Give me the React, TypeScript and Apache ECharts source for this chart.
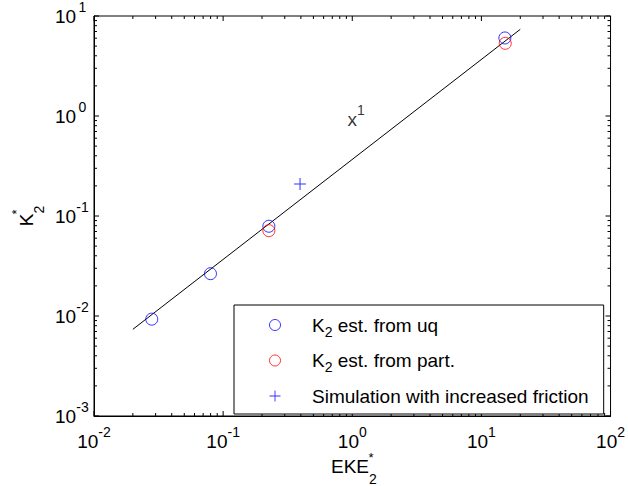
import React, { useEffect, useRef } from 'react';
import * as echarts from 'echarts';

// ---- data ----
const K2_UQ_EKE = [0.028, 0.0798, 0.226, 15.2];
const K2_UQ_K = [0.0093, 0.0265, 0.079, 6.03];
const K2_PART_EKE = [0.226, 15.3];
const K2_PART_K = [0.0713, 5.33];
const FRICTION_EKE = [0.394];
const FRICTION_K = [0.209];
const FIT_EKE = [0.02, 20];
const FIT_K = [0.00736, 7.36];
const FIT_LABEL_AT = [1.07, 0.933];
const X_RANGE = [0.01, 100];
const Y_RANGE = [0.001, 10];
const LEGEND_NAMES = ['uq', 'part', 'fric'];
const LEGEND_TEXT: Record<string, string> = {
  uq: '{b|K}{sub|2}{b| est. from uq}',
  part: '{b|K}{sub|2}{b| est. from part.}',
  fric: '{b|Simulation with increased friction}',
};

const FONT = 'Liberation Sans, Arial, Helvetica, sans-serif';
const BLUE = '#0000ff';
const RED = '#ff0000';
const PLUS = 'path://M5.5,0H6.5V5.5H12V6.5H6.5V12H5.5V6.5H0V5.5H5.5Z';

function decadeTicks(range: number[]) {
  const lo = Math.round(Math.log10(range[0]));
  const hi = Math.round(Math.log10(range[1]));
  const out: { v: number; major: boolean }[] = [];
  for (let k = lo; k <= hi; k++) {
    for (let m = 1; m <= 9; m++) {
      const v = m * Math.pow(10, k);
      if (v > range[1] * 1.0001) break;
      out.push({ v, major: m === 1 });
    }
  }
  return out;
}

const tickRich = {
  b: { fontSize: 19, height: 22, lineHeight: 22, verticalAlign: 'bottom', fontFamily: FONT, color: '#000' },
  s: { fontSize: 14, height: 4, lineHeight: 4, verticalAlign: 'top', fontFamily: FONT, color: '#000' },
};
const yTickRich = {
  b: { fontSize: 19, height: 22, lineHeight: 22, verticalAlign: 'bottom', fontFamily: FONT, color: '#000' },
  s: {
    fontSize: 14,
    height: 4,
    lineHeight: 4,
    width: 13,
    align: 'left',
    verticalAlign: 'top',
    fontFamily: FONT,
    color: '#000',
  },
};

const expLabel = (v: number) => `{b|10}{s|${Math.round(Math.log10(v))}}`;

export default function App() {
  const ref = useRef<HTMLDivElement>(null);
  useEffect(() => {
    if (!ref.current) return;
    const chart = echarts.init(ref.current, undefined, { renderer: 'svg' });

    const tickData: number[][] = [];
    decadeTicks(X_RANGE).forEach((t) => tickData.push([t.v, Y_RANGE[0], 0, t.major ? 5 : 3]));
    decadeTicks(Y_RANGE).forEach((t) => tickData.push([X_RANGE[0], t.v, 1, t.major ? 5 : 3]));

    const titleRich = {
      b: { fontSize: 19, height: 22, lineHeight: 22, verticalAlign: 'top', fontFamily: FONT, color: '#000' },
      sub: { fontSize: 14, height: 12, lineHeight: 30, verticalAlign: 'bottom', fontFamily: FONT, color: '#000' },
    };

    chart.setOption({
      animation: false,
      backgroundColor: '#fff',
      textStyle: { fontFamily: FONT, fontSize: 19 },
      grid: { left: 94, top: 16, right: 15, bottom: 70, show: true, borderColor: '#000', borderWidth: 1 },
      xAxis: {
        type: 'log',
        logBase: 10,
        min: X_RANGE[0],
        max: X_RANGE[1],
        axisLine: { show: true, lineStyle: { color: '#000', width: 1 } },
        axisTick: { show: false },
        splitLine: { show: false },
        axisLabel: {
          margin: 14,
          formatter: expLabel,
          rich: tickRich,
          color: '#000',
          fontSize: 19,
          fontFamily: FONT,
        },
      },
      yAxis: {
        type: 'log',
        logBase: 10,
        min: Y_RANGE[0],
        max: Y_RANGE[1],
        axisLine: { show: true, lineStyle: { color: '#000', width: 1 } },
        axisTick: { show: false },
        splitLine: { show: false },
        axisLabel: {
          margin: 5,
          formatter: expLabel,
          rich: yTickRich,
          color: '#000',
          fontSize: 19,
          fontFamily: FONT,
        },
      },
      legend: {
        data: LEGEND_NAMES,
        orient: 'vertical',
        left: 234,
        top: 305,
        padding: [9, 15, 7, 35],
        itemGap: 11,
        itemWidth: 64,
        itemHeight: 11,
        backgroundColor: '#fff',
        borderColor: '#000',
        borderWidth: 1,
        borderRadius: 0,
        selectedMode: false,
        itemStyle: { borderWidth: 1 },
        formatter: (name: string) => LEGEND_TEXT[name],
        textStyle: {
          fontFamily: FONT,
          fontSize: 19,
          color: '#000',
          rich: {
            b: { fontSize: 19, height: 22, lineHeight: 22, verticalAlign: 'middle', fontFamily: FONT, color: '#000' },
            sub: { fontSize: 14, height: 9, lineHeight: 9, verticalAlign: 'bottom', fontFamily: FONT, color: '#000' },
          },
        },
      },
      series: [
        {
          name: 'fit',
          type: 'line',
          data: FIT_EKE.map((x, i) => [x, FIT_K[i]]),
          showSymbol: false,
          symbol: 'none',
          lineStyle: { color: '#000', width: 1 },
          silent: true,
          z: 2,
        },
        {
          name: 'uq',
          type: 'scatter',
          data: K2_UQ_EKE.map((x, i) => [x, K2_UQ_K[i]]),
          symbol: 'circle',
          symbolSize: 12,
          itemStyle: { color: 'rgba(0,0,0,0)', borderColor: BLUE, borderWidth: 1 },
          z: 3,
        },
        {
          name: 'part',
          type: 'scatter',
          data: K2_PART_EKE.map((x, i) => [x, K2_PART_K[i]]),
          symbol: 'circle',
          symbolSize: 12,
          itemStyle: { color: 'rgba(0,0,0,0)', borderColor: RED, borderWidth: 1 },
          z: 3,
        },
        {
          name: 'fric',
          type: 'scatter',
          data: FRICTION_EKE.map((x, i) => [x, FRICTION_K[i]]),
          symbol: PLUS,
          symbolSize: 12,
          itemStyle: { color: BLUE },
          z: 3,
        },
        {
          name: 'fitLabel',
          type: 'scatter',
          data: [FIT_LABEL_AT],
          symbolSize: 0,
          silent: true,
          label: {
            show: true,
            position: 'inside',
            formatter: '{b|x}{s|1}',
            rich: tickRich,
            color: '#000',
            fontSize: 19,
            fontFamily: FONT,
          },
        },
        {
          name: 'ticks',
          type: 'custom',
          silent: true,
          data: tickData,
          z: 1,
          renderItem: (params: any, api: any) => {
            const x = api.value(0);
            const y = api.value(1);
            const kind = api.value(2);
            const len = api.value(3);
            const st = { stroke: '#000', lineWidth: 1 };
            if (kind === 0) {
              const b = api.coord([x, Y_RANGE[0]]);
              const t = api.coord([x, Y_RANGE[1]]);
              return {
                type: 'group',
                children: [
                  { type: 'line', shape: { x1: b[0], y1: b[1], x2: b[0], y2: b[1] - len }, style: st },
                  { type: 'line', shape: { x1: t[0], y1: t[1], x2: t[0], y2: t[1] + len }, style: st },
                ],
              };
            }
            const l = api.coord([X_RANGE[0], y]);
            const r = api.coord([X_RANGE[1], y]);
            return {
              type: 'group',
              children: [
                { type: 'line', shape: { x1: l[0], y1: l[1], x2: l[0] + len, y2: l[1] }, style: st },
                { type: 'line', shape: { x1: r[0], y1: r[1], x2: r[0] - len, y2: r[1] }, style: st },
              ],
            };
          },
        },
      ],
      graphic: [
        {
          type: 'text',
          x: 331,
          y: 455,
          style: {
            text: '{b|EKE}{sub|2}',
            rich: titleRich,
            fontSize: 19,
            fontFamily: FONT,
            fill: '#000',
            align: 'left',
            verticalAlign: 'top',
          },
        },
        {
          type: 'text',
          x: 371,
          y: 457,
          style: { text: '*', fontSize: 13, fontFamily: FONT, fill: '#000', align: 'center', verticalAlign: 'middle' },
        },
        {
          type: 'text',
          x: 15,
          y: 216,
          rotation: Math.PI / 2,
          style: {
            text: '{b|K}{sub|2}',
            rich: titleRich,
            fontSize: 19,
            fontFamily: FONT,
            fill: '#000',
            align: 'center',
            verticalAlign: 'top',
          },
        },
        {
          type: 'text',
          x: 16,
          y: 212,
          rotation: Math.PI / 2,
          style: { text: '*', fontSize: 13, fontFamily: FONT, fill: '#000', align: 'center', verticalAlign: 'middle' },
        },
      ],
    });
    return () => chart.dispose();
  }, []);
  return (
    <div
      ref={ref}
      style={{ position: 'fixed', left: 0, top: 0, width: 628, height: 486, background: '#fff' }}
    />
  );
}
